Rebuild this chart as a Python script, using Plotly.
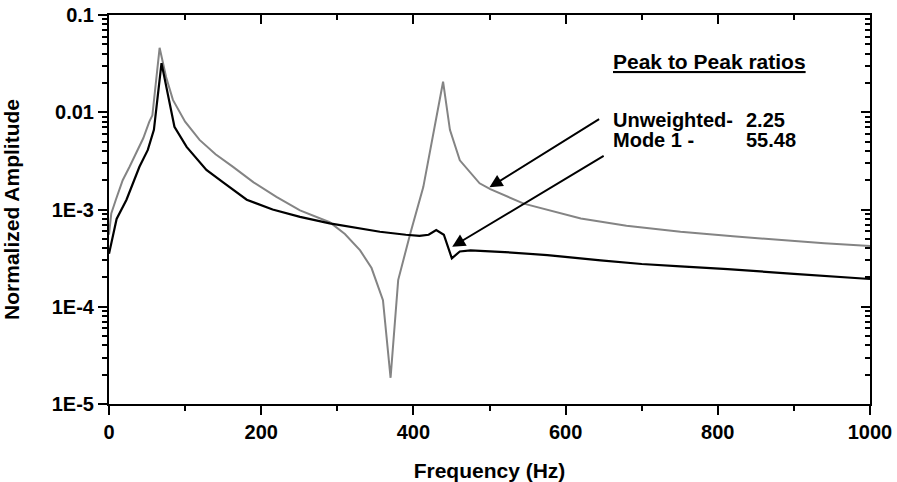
import plotly.graph_objects as go
import math

# ---------------- data ----------------
freq_unweighted = [0, 3, 9, 18, 27, 36, 45, 53, 57, 66.5, 75, 84, 100, 119, 140, 163, 190, 220,
                   251, 290, 310, 330, 345, 360, 370, 380, 396, 413, 429, 439, 448, 461, 487,
                   501, 545, 620, 680, 751, 820, 883, 940, 1000]
amp_unweighted = [5.5e-4, 9.1e-4, 1.26e-3, 2.0e-3, 2.75e-3, 3.8e-3, 5.4e-3, 8.0e-3, 9.3e-3, 0.046,
                  0.023, 0.0134, 0.0080, 0.0052, 0.0037, 0.00274, 0.0019, 0.00135,
                  9.8e-4, 7.4e-4, 5.6e-4, 3.8e-4, 2.5e-4, 1.17e-4, 1.86e-5, 1.88e-4, 5.7e-4,
                  1.7e-3, 8.3e-3, 0.0206, 6.6e-3, 3.2e-3, 1.86e-3,
                  1.62e-3, 1.15e-3, 8.1e-4, 6.8e-4, 5.9e-4, 5.3e-4, 4.86e-4, 4.5e-4, 4.22e-4]

freq_mode1 = [0, 10, 23, 40, 51, 59, 69, 77.5, 86, 102, 128, 150, 181, 215, 251, 290, 330, 356,
              390, 408, 420, 430, 440, 450.5, 461, 475, 520, 576, 646, 700, 751, 813, 900, 1000]
amp_mode1 = [3.5e-4, 8.0e-4, 1.26e-3, 2.75e-3, 4.1e-3, 6.6e-3, 0.032, 0.015, 0.0071, 0.0044,
             0.00255, 0.0019, 0.00126, 1.0e-3, 8.4e-4, 7.2e-4, 6.4e-4, 5.9e-4,
             5.5e-4, 5.35e-4, 5.5e-4, 6.15e-4, 5.5e-4, 3.15e-4, 3.7e-4, 3.8e-4, 3.65e-4,
             3.4e-4, 3.0e-4, 2.75e-4, 2.6e-4, 2.44e-4, 2.18e-4, 1.93e-4]

x_tick_vals = [0, 200, 400, 600, 800, 1000]
y_tick_vals = [1e-5, 1e-4, 1e-3, 1e-2, 1e-1]
y_tick_text = ["1E-5", "1E-4", "1E-3", "0.01", "0.1"]
y_minor_vals = [k * 10 ** e for e in range(-5, -1) for k in range(2, 10)]

ratio_title = "<u>Peak to Peak ratios</u>"
ratio_labels = ["Unweighted-", "Mode 1 -"]
ratio_values = ["2.25", "55.48"]

# annotation anchors (data units)
title_pos = (660, 0.033)
label_x = 660
value_x = 835
row_y = [0.0083, 0.0052]
arrow_unw = dict(head=(500, 1.69e-3), tail=(646, 8.67e-3))
arrow_m1 = dict(head=(451, 4.14e-4), tail=(652, 3.63e-3))

FONT = "Liberation Sans, Arial, sans-serif"
lg = math.log10

fig = go.Figure()
fig.add_trace(go.Scatter(x=freq_unweighted, y=amp_unweighted, mode="lines",
                         line=dict(color="#848484", width=2), name="Unweighted",
                         showlegend=False))
fig.add_trace(go.Scatter(x=freq_mode1, y=amp_mode1, mode="lines",
                         line=dict(color="#000000", width=2.2), name="Mode 1",
                         showlegend=False))
# dummy trace to register the mirrored (top/right) axes
fig.add_trace(go.Scatter(x=[None], y=[None], xaxis="x2", yaxis="y2",
                         showlegend=False, hoverinfo="skip"))

MAJ_LEN, MIN_LEN = 9, 5
tickfont = dict(family=FONT, size=20, color="black", weight="bold")
common = dict(showline=True, linewidth=2, linecolor="black", tickcolor="black",
              tickwidth=2, showgrid=False, zeroline=False, automargin=False)

fig.update_layout(
    width=897, height=482,
    margin=dict(l=109, r=27, t=15, b=78),
    paper_bgcolor="white", plot_bgcolor="white",
    font=dict(family=FONT, color="black"),
    xaxis=dict(range=[0, 1000], tickmode="array", tickvals=x_tick_vals, ticks="outside",
               ticklen=MAJ_LEN, tickfont=tickfont,
               minor=dict(dtick=100, ticks="outside", ticklen=MIN_LEN, tickwidth=2,
                          tickcolor="black", showgrid=False),
               title=dict(text="Frequency (Hz)", font=dict(family=FONT, size=21,
                                                           color="black", weight="bold"),
                          standoff=27), **common),
    yaxis=dict(type="log", range=[-5, -1], tickmode="array", tickvals=y_tick_vals,
               ticktext=y_tick_text, ticks="outside", ticklen=MAJ_LEN, tickfont=tickfont,
               minor=dict(tickmode="array", tickvals=y_minor_vals, ticks="outside",
                          ticklen=MIN_LEN, tickwidth=1.5, tickcolor="black", showgrid=False),
               title=dict(text="Normalized Amplitude",
                          font=dict(family=FONT, size=21, color="black", weight="bold"),
                          standoff=29), **common),
    xaxis2=dict(overlaying="x", side="top", range=[0, 1000], tickmode="array",
                tickvals=x_tick_vals, ticks="inside", ticklen=MAJ_LEN, showticklabels=False,
                minor=dict(dtick=100, ticks="inside", ticklen=MIN_LEN, tickwidth=2,
                           tickcolor="black", showgrid=False), **common),
    yaxis2=dict(overlaying="y", side="right", type="log", range=[-5, -1], tickmode="array",
                tickvals=y_tick_vals, ticks="inside", ticklen=MAJ_LEN, showticklabels=False,
                minor=dict(tickmode="array", tickvals=y_minor_vals, ticks="inside",
                           ticklen=MIN_LEN, tickwidth=1.5, tickcolor="black",
                           showgrid=False),
                **common),
)

annfont = dict(family=FONT, size=20, color="black", weight="bold")
fig.add_annotation(x=title_pos[0], y=lg(title_pos[1]), xref="x", yref="y",
                   text=ratio_title, showarrow=False, xanchor="left", yanchor="middle",
                   font=dict(family=FONT, size=21, color="black", weight="bold"))
for lab, val, yy in zip(ratio_labels, ratio_values, row_y):
    fig.add_annotation(x=label_x, y=lg(yy), xref="x", yref="y", text=lab,
                       showarrow=False, xanchor="left", yanchor="middle", font=annfont)
    fig.add_annotation(x=value_x, y=lg(yy), xref="x", yref="y", text=val,
                       showarrow=False, xanchor="left", yanchor="middle", font=annfont)

for arr in (arrow_unw, arrow_m1):
    fig.add_annotation(x=arr["head"][0], y=lg(arr["head"][1]), xref="x", yref="y",
                       ax=arr["tail"][0], ay=lg(arr["tail"][1]), axref="x", ayref="y",
                       text="", showarrow=True, arrowhead=2, arrowsize=1.3,
                       arrowwidth=2, arrowcolor="black")

fig.write_html("out.html")
